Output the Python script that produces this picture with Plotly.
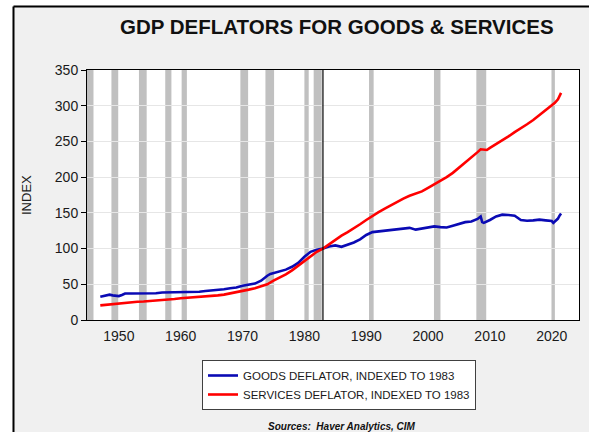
import plotly.graph_objects as go

# GDP deflators, indexed so that 1983 = 100
goods_years = [1947.0, 1947.5, 1948.0, 1948.5, 1949.0, 1949.5, 1950.0, 1950.5, 1951.0,
               1952, 1953, 1954, 1955, 1956, 1957, 1958, 1959, 1960, 1961, 1962, 1963,
               1964, 1965, 1966, 1967, 1968, 1969, 1970, 1971, 1972, 1973, 1973.5, 1974,
               1974.5, 1975, 1976, 1977, 1978, 1979, 1980, 1981, 1982, 1983, 1984, 1985,
               1986, 1987, 1988, 1989, 1990, 1991, 1992, 1993, 1994, 1995, 1996, 1997,
               1998, 1999, 2000, 2001, 2002, 2003, 2004, 2005, 2006, 2007, 2007.5, 2008,
               2008.5, 2008.75, 2009, 2009.5, 2010, 2011, 2012, 2013, 2014, 2015, 2016,
               2017, 2018, 2019, 2020, 2020.25, 2020.5, 2021, 2021.25, 2021.5]
goods_index = [32.5, 33.5, 35, 35.5, 34.5, 33.5, 33.5, 35, 37,
               37, 37, 36.5, 36.5, 37.5, 38.5, 38.5, 39, 38.5, 38.5, 39.5, 39.5,
               40.5, 41, 42, 43, 44.5, 45.5, 48, 49.5, 51, 55, 59, 62,
               64.5, 65.5, 67.5, 70.5, 74.5, 80, 88.5, 95.5, 98.5, 100, 103, 104.5,
               102.5, 105, 108.5, 113, 119, 123, 124, 125.5, 126.5, 128, 129, 129,
               126.5, 128, 129.5, 131, 130, 129.5, 132, 135, 137, 138, 140, 141.5,
               145, 137, 136, 137.5, 140, 145, 147.5, 147, 146, 140, 139,
               139.5, 140.5, 139.5, 138.5, 136, 138, 142, 146, 149]

services_years = [1947, 1948, 1949, 1950, 1951, 1952, 1953, 1954, 1955, 1956, 1957, 1958,
                  1959, 1960, 1961, 1962, 1963, 1964, 1965, 1966, 1967, 1968, 1969, 1970,
                  1971, 1972, 1973, 1974, 1975, 1976, 1977, 1978, 1979, 1980, 1981, 1982,
                  1983, 1984, 1985, 1986, 1987, 1988, 1989, 1990, 1991, 1992, 1993, 1994,
                  1995, 1996, 1997, 1998, 1999, 2000, 2001, 2002, 2003, 2004, 2005, 2006,
                  2007, 2008, 2008.5, 2009, 2009.5, 2010, 2011, 2012, 2013, 2014, 2015,
                  2016, 2017, 2018, 2019, 2020, 2020.25, 2020.5, 2021, 2021.25, 2021.5]
services_index = [20.5, 21.5, 22, 22.5, 23.5, 24.5, 25.5, 26, 26.5, 27.5, 28.5, 29,
                  29.5, 30.5, 31, 32, 32.5, 33, 33.5, 34.5, 35.5, 37, 38.5, 40.5,
                  42.5, 44.5, 47, 50, 55, 59, 64, 69.5, 76, 83, 90, 95.5,
                  100, 106, 113, 118, 123, 128, 134, 140, 146, 151, 156, 161,
                  165, 170, 174, 177, 180, 185, 190, 194, 200, 206, 213, 220,
                  228, 235, 239, 238, 238, 241, 246, 252, 257, 263, 268,
                  274, 280, 287, 294, 300, 302, 304, 309, 313, 318]

# Shaded recession periods (start, end)
recessions = [(1944.85, 1945.9), (1948.8, 1949.9), (1953.25, 1954.5), (1957.5, 1958.5),
              (1960.15, 1961.0), (1969.65, 1970.9), (1973.7, 1975.1), (1980.0, 1980.7),
              (1981.5, 1982.8), (1990.45, 1991.2), (2000.95, 2002.0), (2007.8, 2009.4),
              (2019.95, 2020.5)]

x_ticks = [1950, 1960, 1970, 1980, 1990, 2000, 2010, 2020]
y_ticks = [0, 50, 100, 150, 200, 250, 300, 350]

L, R, T, B = 87, 10, 70, 112
W, H = 589, 432
pw, ph = W - L - R, H - T - B


def px(xp):
    return (xp - L) / pw


def py(yp):
    return (H - B - yp) / ph


fig = go.Figure()
fig.add_trace(go.Scatter(x=goods_years, y=goods_index, mode="lines",
                         name="GOODS DEFLATOR, INDEXED TO 1983",
                         line=dict(color="#0a0ab4", width=2.6)))
fig.add_trace(go.Scatter(x=services_years, y=services_index, mode="lines",
                         name="SERVICES DEFLATOR, INDEXED TO 1983",
                         line=dict(color="#ff0000", width=2.6)))

shapes = []
for a, b in recessions:
    shapes.append(dict(type="rect", xref="x", yref="paper", x0=a, x1=b, y0=0, y1=1,
                       fillcolor="#c0c0c0", line=dict(width=0), layer="below"))
shapes.append(dict(type="line", xref="x", yref="paper", x0=1983, x1=1983, y0=0, y1=1,
                   line=dict(color="black", width=1.2)))
# white surround outside the framed panel
shapes.append(dict(type="rect", xref="paper", yref="paper", x0=px(-5), x1=px(12.5),
                   y0=py(450), y1=py(-5), fillcolor="white", line=dict(width=0), layer="below"))
shapes.append(dict(type="rect", xref="paper", yref="paper", x0=px(-5), x1=px(600),
                   y0=py(5.5), y1=py(-5), fillcolor="white", line=dict(width=0), layer="below"))
shapes.append(dict(type="line", xref="paper", yref="paper", x0=px(13.5), x1=px(13.5),
                   y0=py(450), y1=py(6.5), line=dict(color="black", width=2)))
shapes.append(dict(type="line", xref="paper", yref="paper", x0=px(13.5), x1=px(600),
                   y0=py(6.5), y1=py(6.5), line=dict(color="black", width=2)))

annotations = [
    dict(text="<b>GDP DEFLATORS FOR GOODS &amp; SERVICES</b>", xref="paper", yref="paper",
         x=px(337), y=py(26), xanchor="center", yanchor="middle", showarrow=False,
         font=dict(family="Liberation Sans, Arial", size=20.5, color="#111111")),
    dict(text="INDEX", xref="paper", yref="paper", x=px(26), y=0.5, textangle=-90,
         xanchor="center", yanchor="middle", showarrow=False,
         font=dict(family="Liberation Sans, Arial", size=13, color="#1a1a1a")),
    dict(text="<b><i>Sources:  Haver Analytics, CIM</i></b>", xref="paper", yref="paper",
         x=px(342), y=py(426), xanchor="center", yanchor="middle", showarrow=False,
         font=dict(family="Liberation Sans, Arial", size=10, color="#111111")),
]

fig.update_layout(
    width=W, height=H,
    margin=dict(l=L, r=R, t=T, b=B, pad=0),
    paper_bgcolor="#f0f0f0",
    plot_bgcolor="white",
    shapes=shapes,
    annotations=annotations,
    showlegend=True,
    legend=dict(x=px(202), y=py(360), xanchor="left", yanchor="top",
                bgcolor="white", bordercolor="#404040", borderwidth=1,
                font=dict(family="Liberation Sans, Arial", size=11.5, color="#1a1a1a"),
                tracegroupgap=0),
    xaxis=dict(range=[1944.85, 2024.4], tickvals=x_ticks, ticks="", showgrid=False,
               zeroline=False, showline=True, linecolor="black", linewidth=1, mirror=True,
               tickfont=dict(family="Liberation Sans, Arial", size=14, color="#1a1a1a"),
               ticklabelstandoff=3),
    yaxis=dict(range=[0, 350], tickvals=y_ticks, ticks="outside", ticklen=5,
               tickcolor="black", showgrid=True, gridcolor="#e6e6e6", gridwidth=1,
               zeroline=False, showline=True, linecolor="black", linewidth=1, mirror=True,
               tickfont=dict(family="Liberation Sans, Arial", size=14, color="#1a1a1a")),
)

fig.write_html("out.html")
